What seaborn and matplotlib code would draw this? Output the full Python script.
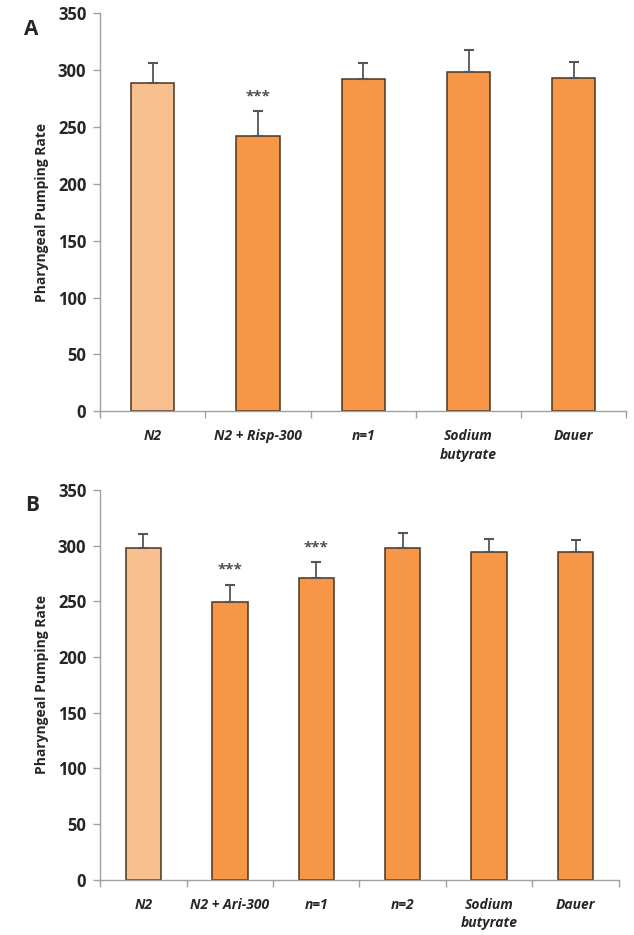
import numpy as np
import pandas as pd
import seaborn as sns
import matplotlib.pyplot as plt
from matplotlib.ticker import FixedLocator

# panel A data
cats_a = ["N2", "N2 + Risp-300", "n=1", "Sodium\nbutyrate", "Dauer"]
means_a = [289, 242, 292, 298, 293]
errs_a = [17, 22, 14, 20, 14]
stars_a = ["", "***", "", "", ""]

# panel B data
cats_b = ["N2", "N2 + Ari-300", "n=1", "n=2", "Sodium\nbutyrate", "Dauer"]
means_b = [298, 249, 271, 298, 294, 294]
errs_b = [12, 16, 14, 13, 12, 11]
stars_b = ["", "***", "***", "", "", ""]

light = "#F9C08F"
orange = "#F79646"

sns.set_style("white")
plt.rcParams['font.family'] = ['Open Sans', 'DejaVu Sans']

fig = plt.figure(figsize=(6.34, 9.35), dpi=100)
ax_a = fig.add_axes([0.158, 0.560, 0.830, 0.426])
ax_b = fig.add_axes([0.158, 0.059, 0.818, 0.417])


def draw(ax, cats, means, errs, stars, letter):
    df = pd.DataFrame({"cat": cats, "val": means})
    cols = [light] + [orange] * (len(cats) - 1)
    sns.barplot(data=df, x="cat", y="val", hue="cat", palette=cols, legend=False,
                saturation=1, width=0.41, edgecolor="#4a3520", linewidth=1.1, ax=ax)
    x = np.arange(len(cats))
    ax.errorbar(x, means, yerr=[np.zeros(len(errs)), errs], fmt="none",
                ecolor="#555555", elinewidth=1.3, capsize=3.5, capthick=1.5, zorder=1)
    for xi, m, e, s in zip(x, means, errs, stars):
        if s:
            ax.text(xi, m + e + 7, s, ha="center", va="bottom", fontsize=11,
                    color="#505050", fontweight="bold")
    ax.set_ylim(0, 350)
    ax.set_xlim(-0.5, len(cats) - 0.5)
    ax.set_yticks(range(0, 351, 50))
    ax.set_xlabel("")
    ax.set_ylabel("Pharyngeal Pumping Rate", fontsize=10, fontweight="bold", labelpad=6)
    for lab in ax.get_yticklabels():
        lab.set_fontweight("bold")
        lab.set_fontsize(12)
    ax.set_xticks(x)
    ax.set_xticklabels(cats, fontsize=10, fontweight="bold", style="italic", linespacing=1.4)
    ax.xaxis.set_minor_locator(FixedLocator(np.arange(len(cats) + 1) - 0.5))
    ax.tick_params(axis="x", which="major", length=0, pad=13)
    ax.tick_params(axis="x", which="minor", length=5, color="#a0a0a0", width=1, direction="out", bottom=True)
    ax.tick_params(axis="y", length=5, color="#a0a0a0", width=1, direction="out", left=True, pad=5)
    sns.despine(ax=ax)
    for sp in ["left", "bottom"]:
        ax.spines[sp].set_color("#a0a0a0")
        ax.spines[sp].set_linewidth(1)
    ax.text(-0.145, 0.945, letter, transform=ax.transAxes, fontsize=15, fontweight="bold")


draw(ax_a, cats_a, means_a, errs_a, stars_a, "A")
draw(ax_b, cats_b, means_b, errs_b, stars_b, "B")

fig.savefig("out.png", dpi=100)
